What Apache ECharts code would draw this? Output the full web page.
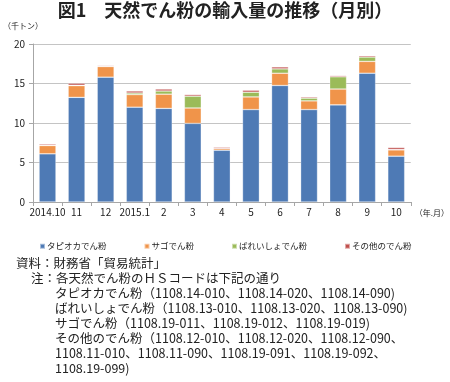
<!DOCTYPE html>
<html><head><meta charset="utf-8">
<script src="https://cdn.jsdelivr.net/npm/echarts@6/dist/echarts.min.js"></script>
<style>html,body{margin:0;padding:0;background:#fff}#c{width:450px;height:382px}</style>
</head><body><div id="c"></div>
<script>
const categories = ['2014.10','11','12','2015.1','2','3','4','5','6','7','8','9','10'];
const tapioca = [6.1, 13.25, 15.8, 12.0, 11.85, 9.95, 6.55, 11.7, 14.75, 11.7, 12.3, 16.3, 5.8];
const sago    = [1.05, 1.48, 1.35, 1.6, 1.8, 1.95, 0.2, 1.6, 1.55, 1.1, 2.0, 1.5, 0.8];
const potato  = [0.05, 0.05, 0.02, 0.2, 0.4, 1.5, 0.02, 0.6, 0.55, 0.35, 1.55, 0.55, 0.05];
const other   = [0.15, 0.25, 0.1, 0.25, 0.25, 0.2, 0.15, 0.25, 0.25, 0.15, 0.15, 0.17, 0.25];
const seriesNames = ['タピオカでん粉','サゴでん粉','ばれいしょでん粉','その他のでん粉'];
const yTicks = [0,5,10,15,20];
const titleText = '図1　天然でん粉の輸入量の推移（月別）';
const yUnit = '（千トン）';
const xUnit = '（年.月）';
const notes = [
  '資料：財務省「貿易統計」',
  '注：各天然でん粉のＨＳコードは下記の通り',
  'タピオカでん粉（1108.14-010、1108.14-020、1108.14-090)',
  'ばれいしょでん粉（1108.13-010、1108.13-020、1108.13-090)',
  'サゴでん粉（1108.19-011、1108.19-012、1108.19-019)',
  'その他のでん粉（1108.12-010、1108.12-020、1108.12-090、',
  '1108.11-010、1108.11-090、1108.19-091、1108.19-092、',
  '1108.19-099)'
];
const noteX = [16, 31, 55, 55, 55, 55, 55, 55];

const FONT = '"Noto Sans CJK JP", "Noto Sans", sans-serif';
const colors = ['#4E7AB5','#F0944A','#9BBB59','#C0504D'];
const data = [tapioca, sago, potato, other];

const chart = echarts.init(document.getElementById('c'), null, {renderer:'canvas'});
const graphic = [{
  type:'text', left:'center', top:1,
  style:{text:titleText, font:'bold 18px ' + FONT, fill:'#222'}
}];
notes.forEach((t,i)=>{
  graphic.push({type:'text', x:noteX[i], y:263 + i*15.1,
    style:{text:t, font:'12.5px ' + FONT, fill:'#222', verticalAlign:'middle'}});
});

chart.setOption({
  animation:false,
  color: colors,
  textStyle:{fontFamily:FONT},
  grid:{left:28, right:34, top:44, bottom:180, containLabel:false},
  legend:{
    data: seriesNames, left:34, top:237, icon:'rect', itemWidth:5, itemHeight:5, itemGap:37,
    textStyle:{fontSize:8.5, color:'#222', fontFamily:FONT, padding:[0,0,0,-3]}
  },
  xAxis:{
    type:'category', data:categories,
    axisLine:{lineStyle:{color:'#A6A6A6'}},
    axisTick:{show:true, length:4, lineStyle:{color:'#A6A6A6'}, alignWithLabel:false},
    axisLabel:{fontSize:10, color:'#222', margin:5, interval:0},
    name:xUnit, nameLocation:'end', nameGap:4,
    nameTextStyle:{fontSize:8, color:'#222', align:'left', verticalAlign:'top', padding:[7,0,0,0]}
  },
  yAxis:{
    type:'value', min:0, max:20, interval:5,
    axisLine:{show:true, lineStyle:{color:'#A6A6A6'}},
    axisTick:{show:true, length:4, lineStyle:{color:'#A6A6A6'}},
    splitLine:{lineStyle:{color:'#C4C4C4'}},
    axisLabel:{fontSize:10, color:'#222', margin:8},
    name:yUnit, nameLocation:'end', nameGap:14,
    nameTextStyle:{fontSize:8, color:'#222', align:'center', padding:[0,20,0,0]}
  },
  series: seriesNames.map((n,i)=>({
    name:n, type:'bar', stack:'total', data:data[i], barCategoryGap:'42%',
    itemStyle:{color:colors[i], borderColor:'rgba(255,255,255,0.5)', borderWidth:0.6}
  })),
  graphic: graphic
});
</script></body></html>
